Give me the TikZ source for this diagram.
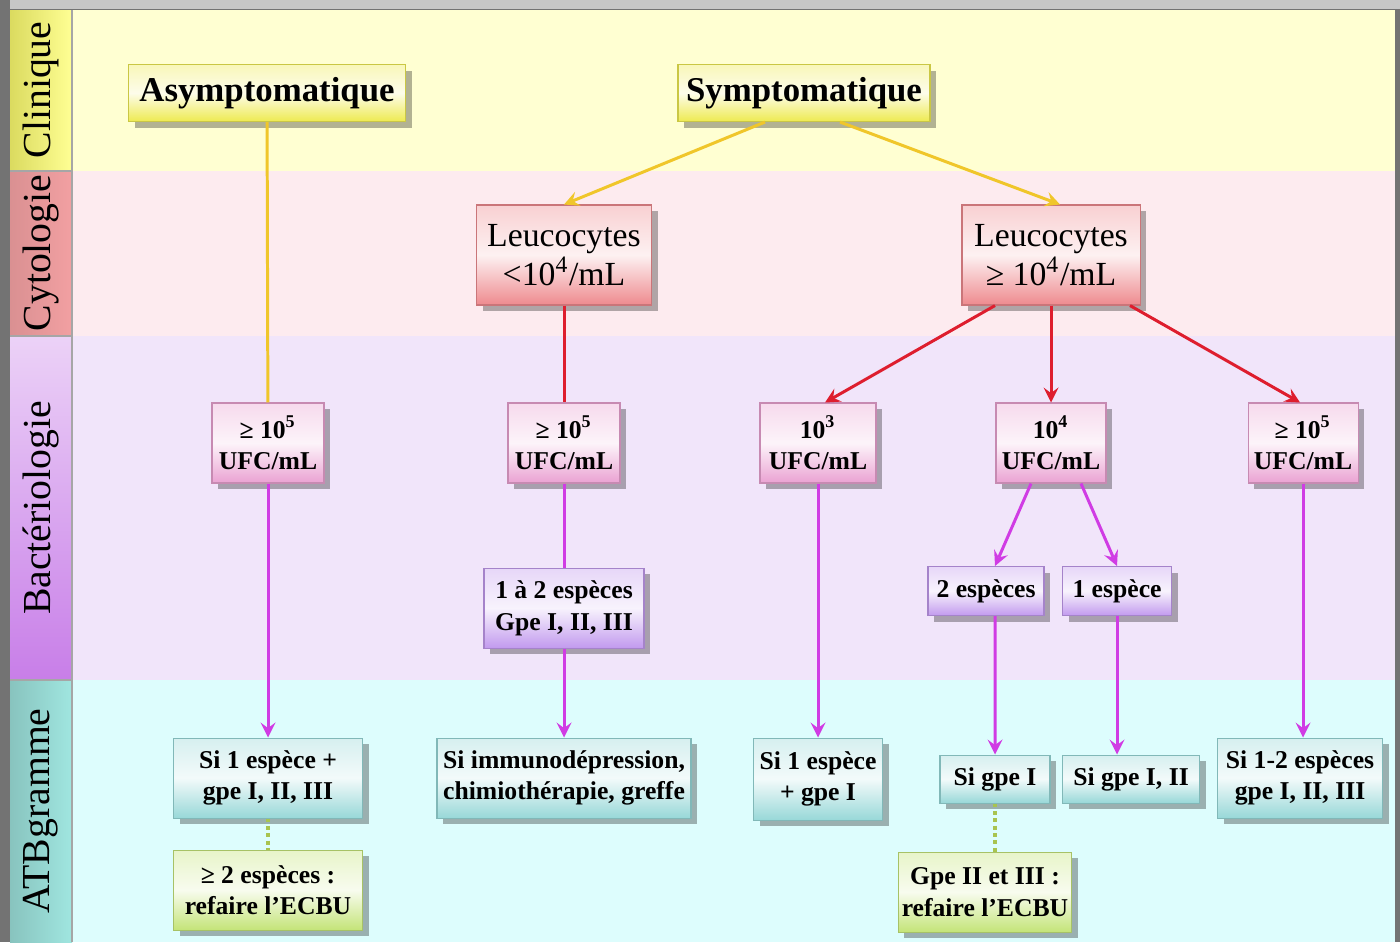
\documentclass[tikz,border=0pt]{standalone}
\usepackage{fontspec}
\setmainfont{Liberation Serif}
\usepackage{xcolor}
\usepackage{tikz}
\usetikzlibrary{
    shadows,
    positioning
}
\definecolor{clinbg}{HTML}{FFFFD2}
\definecolor{cytobg}{HTML}{FDEBEF}
\definecolor{bactbg}{HTML}{F1E5FA}
\definecolor{atbbg}{HTML}{DDFDFD}
\definecolor{clinlab}{HTML}{FFFF66}
\definecolor{cytolab}{HTML}{F2A0A2}
\definecolor{bactlab}{HTML}{C87EE8}
\definecolor{atblab}{HTML}{A0E6E0}
\definecolor{boxjaune}{HTML}{EEEA50}
\definecolor{boxrouge}{HTML}{EE8A8E}
\definecolor{boxrose}{HTML}{EAA2D2}
\definecolor{boxmauve}{HTML}{C29AEE}
\definecolor{boxcyan}{HTML}{98D8D8}
\definecolor{boxvert}{HTML}{C4E478}
\definecolor{fljaune}{HTML}{F0C62A}
\definecolor{flrouge}{HTML}{DE1E2E}
\definecolor{flmagenta}{HTML}{D03CE4}
\definecolor{flvert}{HTML}{A8C450}
\tikzset{
    >=stealth,
    box/.style={rectangle, inner sep=1pt, align=center,
        draw=#1!85!black, line width=0.3pt,
        top color=#1!40!white, bottom color=#1, middle color=#1!12!white,
        drop shadow={shadow xshift=0.6mm, shadow yshift=-0.6mm, fill=black, opacity=0.3}},
    big/.style={font=\fontsize{9.9}{11}\selectfont\bfseries},
    leuc/.style={font=\fontsize{9.6}{11}\selectfont},
    small/.style={font=\fontsize{7.3}{9}\selectfont\bfseries},
    bande/.style={rotate=90, font=\fontsize{11.3}{13}\selectfont},
    jaunefl/.style={color=fljaune, line width=0.85pt},
    rougefl/.style={color=flrouge, line width=0.85pt},
    magentafl/.style={color=flmagenta, line width=0.85pt},
    vertfl/.style={color=flvert, line width=1.1pt, densely dotted},
}
\begin{document}
\begin{tikzpicture}[x=0.1mm, y=-0.1mm]
  % cadre et bandes
  \fill[black!55] (0,0) rectangle (1400,942);
  \fill[black!22] (10,0) rectangle (1400,9);
  \fill[clinbg] (72,10) rectangle (1395,171);
  \fill[cytobg] (72,171) rectangle (1395,336);
  \fill[bactbg] (72,336) rectangle (1395,680);
  \fill[atbbg] (72,680) rectangle (1395,942);
  \shade[left color=clinlab!85!black!95, right color=clinlab!70!white] (10,10) rectangle (72,171);
  \shade[left color=cytolab!90!black, right color=cytolab] (10,171) rectangle (72,336);
  \shade[top color=bactlab!35!white, bottom color=bactlab] (10,336) rectangle (72,680);
  \shade[left color=atblab!85!black, right color=atblab] (10,680) rectangle (72,942);
  \draw[black!35, line width=0.4pt] (10,171) -- (72,171) (10,336) -- (72,336) (10,680) -- (72,680)
    (72,10) -- (72,942);
  \node[bande] (lclin) at (41,90) {Clinique};
  \node[bande] (lcyto) at (41,253) {Cytologie};
  \node[bande] (lbact) at (41,508) {Bactériologie};
  \node[bande] (latb) at (41,811) {ATBgramme};

  % clinique
  \node[box=boxjaune, big, minimum width=27.7mm, minimum height=5.7mm] (asym) at (267,93) {Asymptomatique};
  \node[box=boxjaune, big, minimum width=25.2mm, minimum height=5.7mm] (sym) at (804,93) {Symptomatique};

  % cytologie
  \node[box=boxrouge, leuc, minimum width=17.5mm, minimum height=10mm] (leucA) at (564,255) {Leucocytes\\<10\textsuperscript{4}/mL};
  \node[box=boxrouge, leuc, minimum width=17.8mm, minimum height=10mm] (leucB) at (1051,255) {Leucocytes\\≥ 10\textsuperscript{4}/mL};

  % bacteriologie
  \node[box=boxrose, small, minimum width=11.2mm, minimum height=8mm] (ufcA) at (268,443) {≥ 10\textsuperscript{5}\\UFC/mL};
  \node[box=boxrose, small, minimum width=11.2mm, minimum height=8mm] (ufcB) at (564,443) {≥ 10\textsuperscript{5}\\UFC/mL};
  \node[box=boxrose, small, minimum width=11.6mm, minimum height=8mm] (ufc3) at (818,443) {10\textsuperscript{3}\\UFC/mL};
  \node[box=boxrose, small, minimum width=11mm, minimum height=8mm] (ufc4) at (1051,443) {10\textsuperscript{4}\\UFC/mL};
  \node[box=boxrose, small, minimum width=11mm, minimum height=8mm] (ufc5) at (1303,443) {≥ 10\textsuperscript{5}\\UFC/mL};
  \node[box=boxmauve, small, minimum width=16mm, minimum height=8mm] (esp12) at (564,608) {1 à 2 espèces\\Gpe I, II, III};
  \node[box=boxmauve, small, minimum width=11.6mm, minimum height=4.9mm] (esp2) at (986,591) {2 espèces};
  \node[box=boxmauve, small, minimum width=10.9mm, minimum height=4.9mm] (esp1) at (1117,591) {1 espèce};

  % ATBgramme
  \node[box=boxcyan, small, minimum width=18.9mm, minimum height=8mm] (atbA) at (268,778) {Si 1 espèce +\\gpe I, II, III};
  \node[box=boxcyan, small, minimum width=25.4mm, minimum height=8mm] (atbB) at (564,778) {Si immunodépression,\\chimiothérapie, greffe};
  \node[box=boxcyan, small, minimum width=12.9mm, minimum height=8.2mm] (atbC) at (818,779) {Si 1 espèce\\+ gpe I};
  \node[box=boxcyan, small, minimum width=11mm, minimum height=4.8mm] (atbD) at (995,779) {Si gpe I};
  \node[box=boxcyan, small, minimum width=13.7mm, minimum height=4.8mm] (atbE) at (1131,779) {Si gpe I, II};
  \node[box=boxcyan, small, minimum width=16.5mm, minimum height=8mm] (atbF) at (1300,778) {Si 1-2 espèces\\gpe I, II, III};
  \node[box=boxvert, small, minimum width=18.9mm, minimum height=8mm] (refA) at (268,890) {≥ 2 espèces :\\refaire l’ECBU};
  \node[box=boxvert, small, minimum width=16.8mm, minimum height=8mm] (refB) at (985,892) {Gpe II et III :\\refaire l’ECBU};

  \path[jaunefl]
    (asym) edge (ufcA)
    ([xshift=-3.9mm]sym.south) edge[->] (leucA.north)
    ([xshift=3.6mm]sym.south) edge[->] ([xshift=0.9mm]leucB.north);
  \path[rougefl]
    (leucA) edge (ufcB)
    ([xshift=-5.6mm]leucB.south) edge[->] ([xshift=0.7mm]ufc3.north)
    (leucB) edge[->] (ufc4)
    ([xshift=7.9mm]leucB.south) edge[->] ([xshift=-0.3mm]ufc5.north);
  \path[magentafl]
    (ufcA) edge[->] (atbA)
    (ufcB) edge (esp12)
    (esp12) edge[->] (atbB)
    (ufc3) edge[->] (atbC)
    ([xshift=-2mm]ufc4.south) edge[->] ([xshift=0.9mm]esp2.north)
    ([xshift=3mm]ufc4.south) edge[->] (esp1.north)
    ([xshift=0.9mm]esp2.south) edge[->] (atbD)
    (esp1) edge[->] (esp1 |- atbE.north)
    (ufc5) edge[->] (ufc5 |- atbF.north);
  \path[vertfl]
    (atbA) edge (refA)
    (atbD) edge (atbD |- refB.north);
\end{tikzpicture}
\end{document}
